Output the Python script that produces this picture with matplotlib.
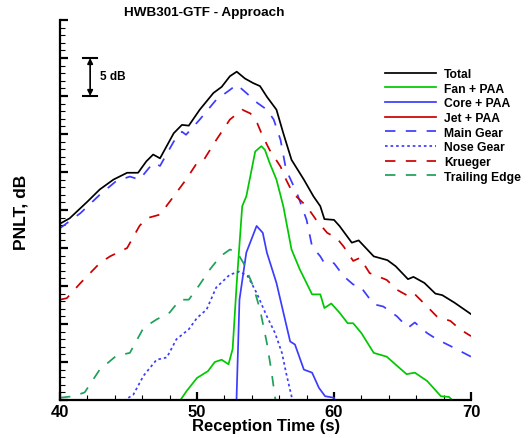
import matplotlib
matplotlib.use("Agg")
import matplotlib.pyplot as plt
from matplotlib.ticker import MultipleLocator, NullFormatter

plt.rcParams['font.family'] = ['Liberation Sans', 'DejaVu Sans']

# relative PNLT levels in dB (no absolute scale on the original chart)
total_t = [40, 40.7, 42.0, 42.9, 43.9, 44.9, 45.7, 46.3, 46.8, 47.3, 48.3, 48.9, 49.4, 50.2, 51.2, 51.8,
           52.4, 52.9, 53.5, 54.1, 54.6, 55.1, 55.8, 56.3, 56.9, 57.8, 58.5, 59.0, 59.3, 60.0, 60.4,
           61.3, 61.8, 62.9, 63.9, 64.5, 65.4, 65.8, 66.6, 67.4, 67.9, 68.8, 70]
total_db = [23.2, 23.9, 26.1, 27.7, 29.0, 29.9, 29.9, 31.4, 32.3, 31.8, 35.1, 36.2, 36.1, 38.2, 40.4, 41.2,
            42.6, 43.2, 42.3, 41.7, 41.3, 39.9, 38.2, 35.1, 31.6, 29.0, 26.8, 25.5, 23.8, 23.7, 22.9,
            20.7, 21.0, 18.9, 18.4, 17.6, 15.9, 16.2, 15.4, 14.0, 13.8, 12.8, 11.3]

fan_t = [48.6, 49.25, 50.0, 50.8, 51.3, 51.8, 52.3, 52.6, 52.9, 53.3, 53.6, 54.25, 54.7, 54.96, 55.3,
         55.8, 56.3, 56.9, 57.5, 58.4, 59.0, 59.3, 59.8, 60.4, 61.0, 61.4, 62.0, 62.9, 63.85, 64.6,
         65.3, 65.9, 66.8, 67.8, 68.4, 68.9]
fan_db = [-0.5, 1.2, 2.9, 3.8, 5.0, 5.3, 4.7, 6.7, 15.4, 25.5, 26.8, 32.7, 33.4, 32.9, 31.2,
          29.0, 25.5, 19.8, 17.2, 13.9, 13.9, 12.1, 12.7, 11.5, 10.1, 10.1, 8.8, 6.2, 5.7, 4.5,
          3.4, 3.6, 2.5, 0.5, 0.4, -0.5]

core_t = [52.85, 53.1, 53.6, 54.35, 54.8, 55.1, 55.8, 56.8, 57.15, 57.8, 58.4, 58.9, 59.35, 60.0, 60.1]
core_db = [-2.0, 13.2, 19.4, 22.9, 22.0, 19.4, 15.4, 7.7, 7.3, 4.0, 3.6, 1.6, 0.5, 0.3, -1.0]

# jet stays below the plotted range
jet_t = [48, 52, 55, 58, 62]
jet_db = [-9.0, -5.0, -3.5, -6.0, -10.0]

main_t = [40, 41.5, 42.9, 44.1, 45.1, 45.8, 46.8, 47.3, 48.3, 48.9, 49.2, 50.2, 51.4, 52.4, 52.9,
          53.6, 54.4, 55.1, 55.6, 56.1, 56.5, 57.3, 58.0, 58.4, 59.0, 59.3, 60.0, 60.7, 61.4, 61.9,
          62.9, 63.6, 64.6, 65.4, 65.9, 66.8, 67.5, 68.5, 70]
main_db = [22.6, 24.6, 27.0, 28.8, 29.4, 29.0, 31.2, 30.8, 34.0, 35.3, 34.9, 36.9, 39.5, 40.8, 41.5,
           40.4, 39.1, 38.2, 36.9, 34.2, 30.3, 27.2, 23.7, 20.2, 18.9, 18.0, 18.0, 16.3, 15.2, 15.0,
           12.6, 12.3, 11.0, 9.5, 10.2, 8.8, 8.0, 7.1, 5.7]

nose_t = [44.3, 45.35, 46.1, 47.05, 47.8, 48.5, 49.4, 50.0, 50.7, 51.4, 52.4, 53.1, 53.7, 54.35,
          55.1, 55.7, 56.2, 56.5, 56.9, 57.1]
nose_db = [-0.5, 0.7, 3.2, 5.3, 5.6, 8.0, 9.3, 10.8, 11.9, 14.8, 16.5, 16.9, 16.3, 14.1,
           11.0, 8.8, 6.2, 3.6, 0.5, -0.8]

krueger_t = [40, 40.5, 41.5, 42.9, 43.65, 44.9, 45.8, 46.3, 47.3, 48.3, 49.2, 50.0, 50.5, 51.4, 52.4,
             53.3, 53.9, 54.4, 54.8, 55.3, 56.1, 56.5, 57.0, 58.0, 58.7, 59.5, 60.2, 60.7, 61.4,
             61.9, 62.6, 63.85, 64.6, 65.4, 65.8, 66.8, 67.5, 68.5, 69.2, 70]
krueger_db = [13.2, 13.4, 15.4, 18.0, 18.9, 20.0, 22.9, 23.9, 24.4, 26.8, 29.0, 31.2, 31.6, 34.2, 36.9,
              38.2, 37.7, 36.4, 34.7, 32.9, 30.7, 29.0, 27.2, 25.5, 23.7, 22.0, 21.3, 20.2, 18.3,
              18.7, 16.7, 15.8, 14.5, 13.7, 14.1, 12.3, 11.0, 10.4, 9.3, 8.4]

te_t = [40, 41.0, 41.8, 42.9, 44.1, 45.1, 46.1, 47.05, 48.0, 48.76, 49.4, 50.2, 50.95, 51.7, 52.4,
        52.9, 53.4, 54.1, 54.6, 55.1, 55.45, 55.7, 55.8]
te_db = [0.3, 0.5, 1.0, 4.0, 5.8, 6.2, 9.5, 10.6, 11.5, 13.2, 13.2, 15.2, 17.2, 18.9, 19.8,
         19.5, 18.0, 15.0, 11.9, 7.5, 3.6, 0.3, -0.8]

fig = plt.figure(figsize=(5.31, 4.39), dpi=100)
ax = fig.add_axes([60 / 531, 38 / 439, 411 / 531, 380 / 439])

blue = '#3c3cff'
lw = 1.25
ax.plot(total_t, total_db, color='black', lw=lw, label='Total')
ax.plot(fan_t, fan_db, color='#00c800', lw=lw, label='Fan + PAA')
ax.plot(core_t, core_db, color=blue, lw=lw, label='Core + PAA')
ax.plot(jet_t, jet_db, color='#cc0000', lw=lw, label='Jet + PAA')
ax.plot(main_t, main_db, color=blue, lw=lw, dashes=(6, 6), label='Main Gear')
ax.plot(nose_t, nose_db, color=blue, lw=lw, dashes=(1.5, 1.7), label='Nose Gear')
ax.plot(krueger_t, krueger_db, color='#cc0000', lw=lw, dashes=(6, 6), label='Krueger')
ax.plot(te_t, te_db, color='#1ea05a', lw=lw, dashes=(6, 6), label='Trailing Edge')

ax.set_xlim(40, 70)
ax.set_ylim(0, 50)
ax.xaxis.set_major_locator(MultipleLocator(10))
ax.xaxis.set_minor_locator(MultipleLocator(2))
ax.yaxis.set_major_locator(MultipleLocator(5))
ax.yaxis.set_minor_locator(MultipleLocator(1))
ax.yaxis.set_major_formatter(NullFormatter())
ax.tick_params(which='major', direction='in', length=6, width=1.6)
ax.tick_params(which='minor', direction='in', length=3.5, width=0.8)
ax.tick_params(axis='x', labelsize=12, pad=3)
for lab in ax.get_xticklabels():
    lab.set_fontweight('bold')
for s in ['top', 'right']:
    ax.spines[s].set_visible(False)
for s in ['left', 'bottom']:
    ax.spines[s].set_linewidth(1.6)

# 5 dB scale bar
ax.annotate('', xy=(42.2, 40), xytext=(42.2, 45),
            arrowprops=dict(arrowstyle='<|-|>', color='black', lw=1.2, mutation_scale=8,
                            shrinkA=0, shrinkB=0))
ax.plot([41.7, 42.7], [45, 45], color='black', lw=1.5)
ax.plot([41.7, 42.7], [40, 40], color='black', lw=1.5)
ax.text(42.9, 42.6, '5 dB', fontsize=8.5, fontweight='bold', va='center', ha='left')

fig.text(0.385, 0.970, 'HWB301-GTF - Approach', fontsize=9.7, fontweight='bold', ha='center', va='center')
fig.text(266 / 531, 1 - 427 / 439, 'Reception Time (s)', fontsize=12, fontweight='bold', ha='center', va='center')
fig.text(21 / 531, 1 - 212 / 439, 'PNLT, dB', fontsize=12.5, fontweight='bold', ha='center', va='center',
         rotation=90)

fig.legend(loc='upper left', bbox_to_anchor=(385 / 531, 1 - 69 / 439), frameon=False,
           prop={'size': 8.7, 'weight': 'bold'}, handlelength=4.2, handletextpad=0.7,
           labelspacing=0.22, borderpad=0, borderaxespad=0)

fig.savefig('out.png', dpi=100)
